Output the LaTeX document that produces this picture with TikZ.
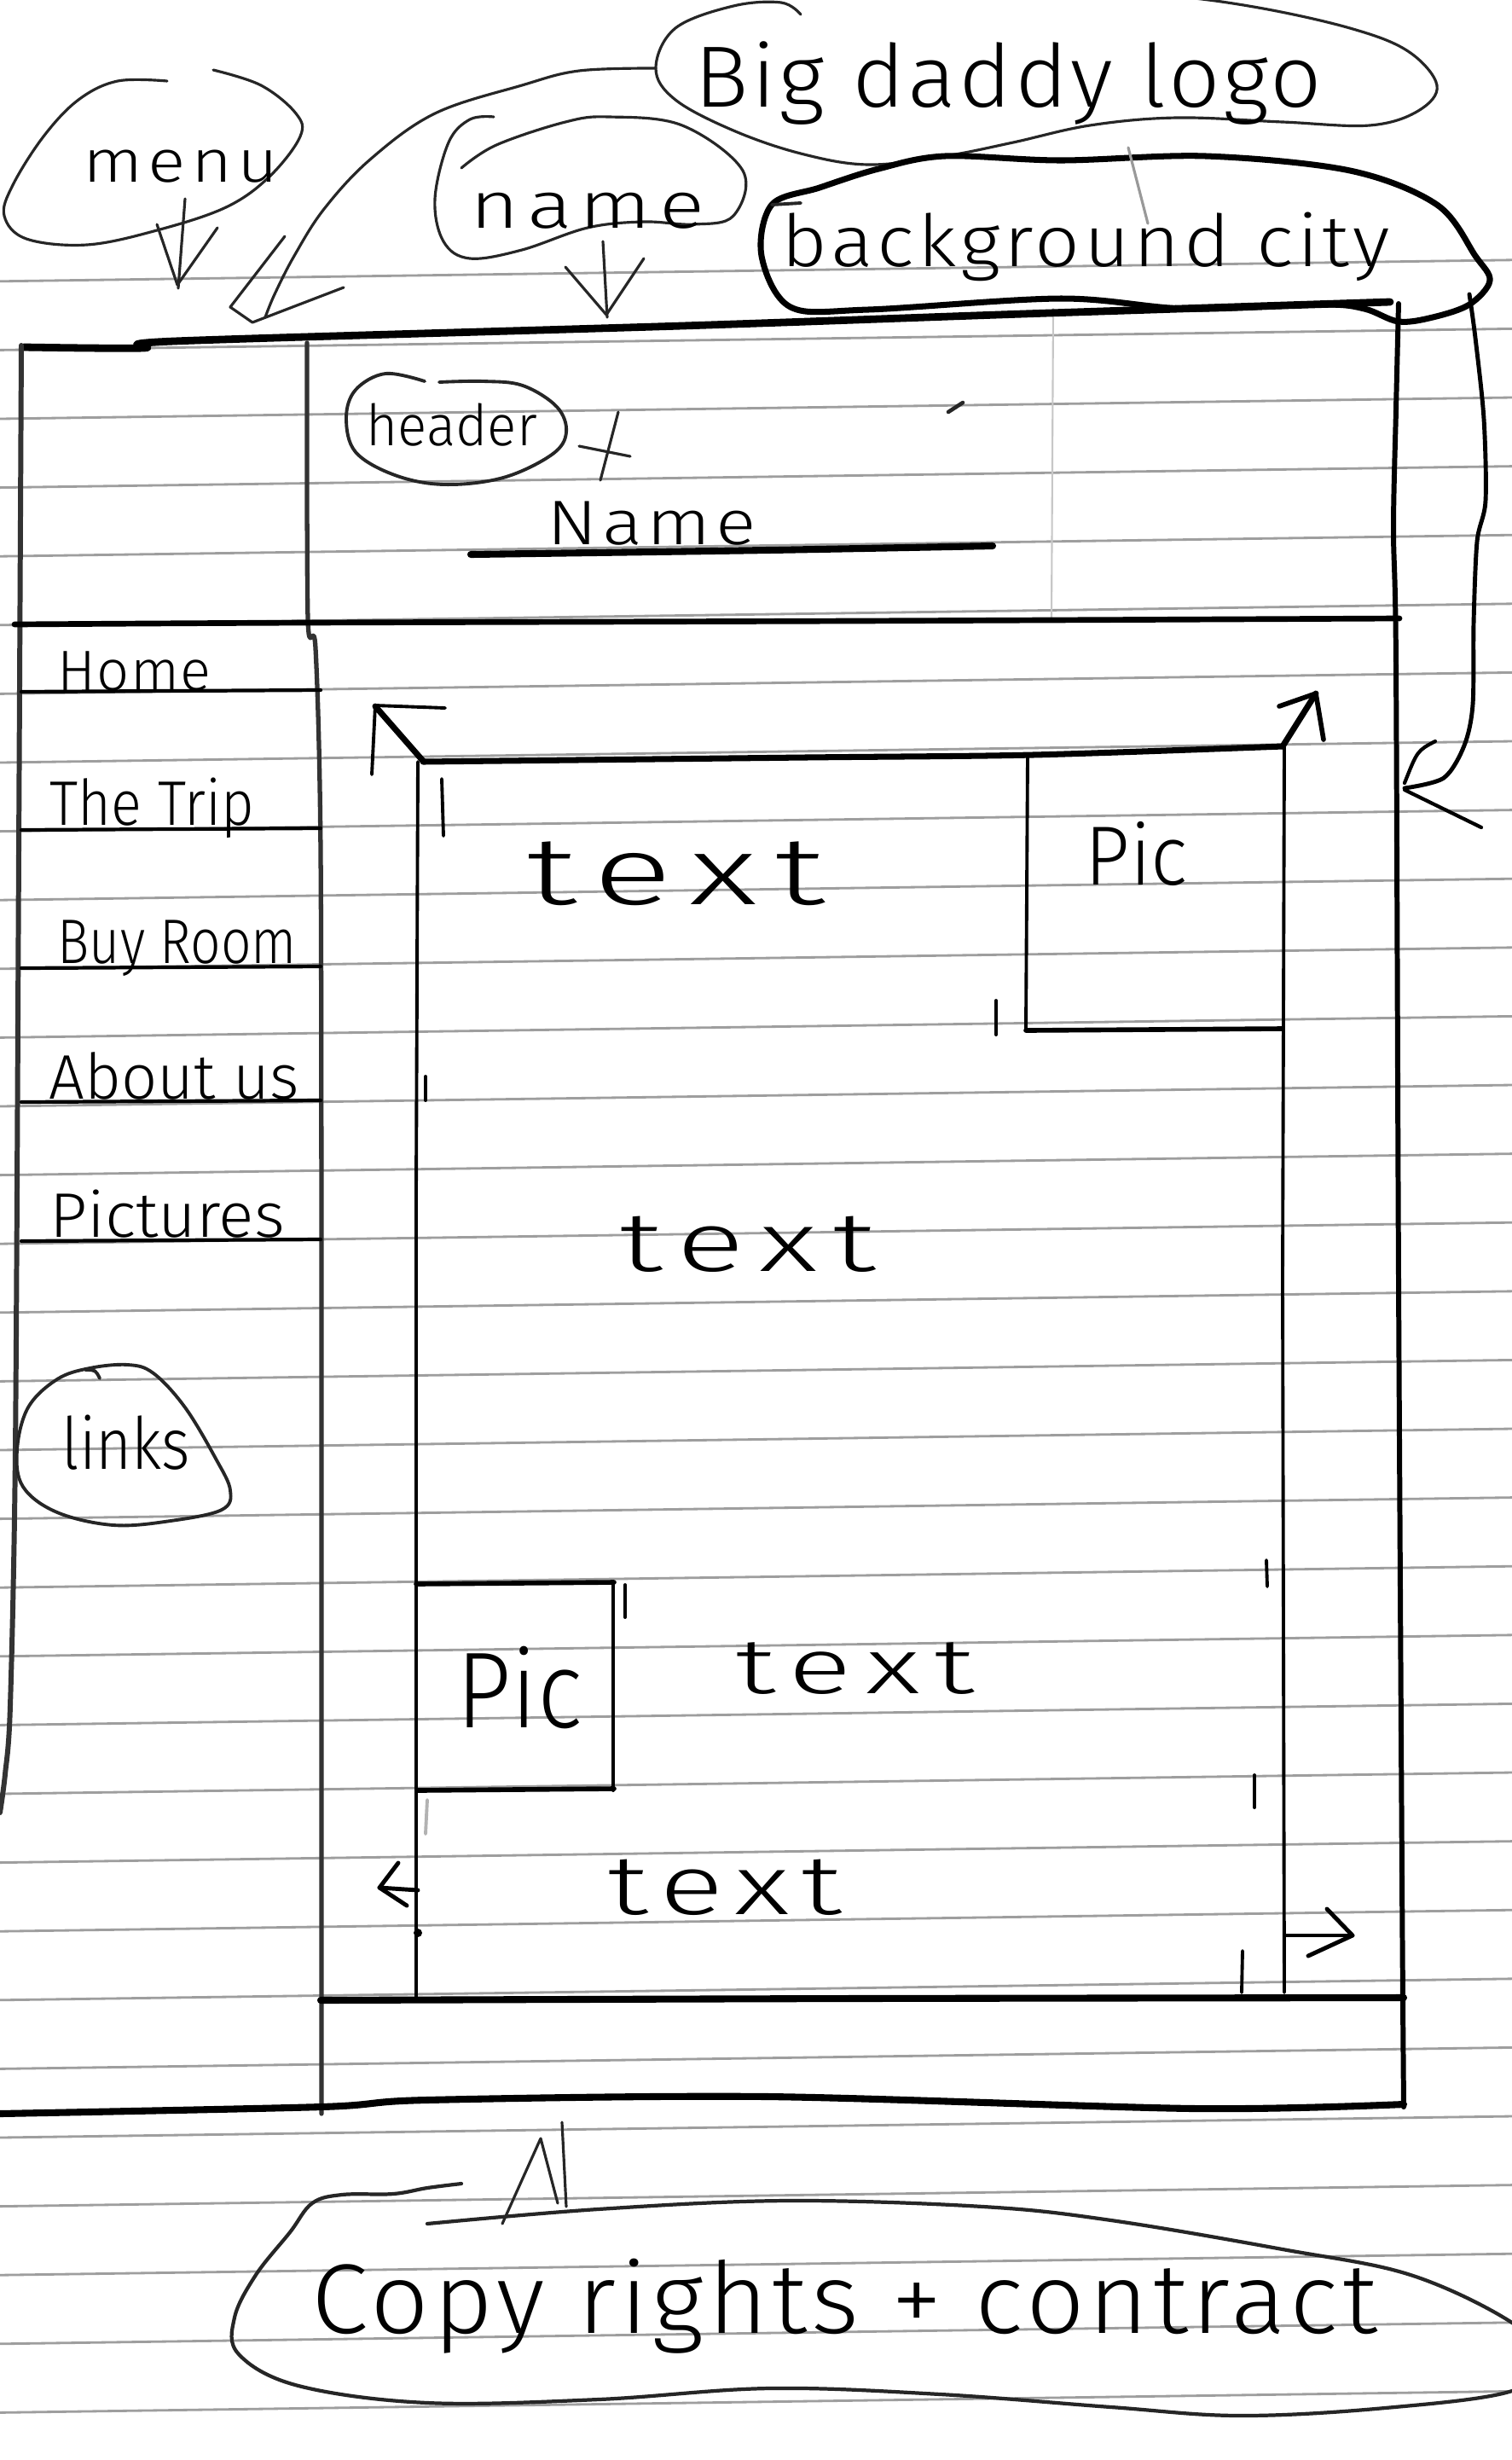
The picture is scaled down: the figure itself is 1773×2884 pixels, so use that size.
\documentclass[tikz,border=0pt]{standalone}
\usepackage{fontspec}
\IfFontExistsTF{Fira Sans Light}{\setmainfont{Fira Sans Light}}{\setmainfont{Fira Sans}}
% hand-lettered label: [letter spacing] font size, target width, text
\newcommand\hand[4][0]{{\fontsize{#2}{#2}\selectfont\addfontfeature{LetterSpace=#1}\resizebox{#3}{\height}{#4}}}
\begin{document}
\begin{tikzpicture}[x=0.01cm, y=-0.01cm, line cap=round, line join=round,
  rule/.style={draw=black!38, line width=0.8pt},
  bord/.style={draw=black, line width=1.7pt},
  heavy/.style={draw=black, line width=2.5pt},
  innerln/.style={draw=black, line width=1.1pt},
  menuln/.style={draw=black, line width=1.2pt},
  ink/.style={draw=black!85, line width=0.9pt},
  tickln/.style={draw=black, line width=1.1pt},
  lbl/.style={inner sep=0pt, anchor=base west},
]
\useasboundingbox (0,0) rectangle (1773,2884);
\clip (0,0) rectangle (1773,2884);
\fill[white] (0,0) rectangle (1773,2884);

% ruled paper
\foreach \k in {-2,...,29}
  \draw[rule] (0,{491+80.6*\k}) -- (1773,{466+80.6*\k});

% faint crease in the header band
\draw[black!22, line width=0.6pt] (1235,362) -- (1233,727);

% ---------------- page frame ----------------
\draw[heavy] plot[smooth, tension=0.5] coordinates {(28,407) (168,408) (204,400) (800,382) (1200,368) (1630,354)};
\draw[bord] plot[smooth, tension=0.5] coordinates {(1640,356) (1637,480) (1634,620) (1637,780) (1640,1500) (1644,2200) (1646,2470)};
\draw[bord, draw=black!80] plot[smooth, tension=0.5] coordinates {(25,405) (22,1000) (18,1700) (12,2000) (6,2080) (0,2125)};
\draw[bord, draw=black!80, line width=1.5pt] plot[smooth, tension=0.5] coordinates {(360,402) (361,725) (370,760) (376,1000) (377,1600) (377,2478)};
\draw[heavy, line width=1.9pt] plot[smooth, tension=0.5] coordinates {(17,732) (360,730) (1000,728) (1641,725)};

% menu rows
\foreach \y in {811,973,1135,1292,1455}
  \draw[menuln] (25,\y) -- (376,{\y-2});

\node[lbl] (home)  at (67,809)  {\hand[2]{19pt}{1.8cm}{Home}};
\node[lbl] (trip)  at (58,967)  {\hand{21pt}{2.39cm}{The Trip}};
\node[lbl] (buy)   at (67,1129) {\hand{21pt}{2.8cm}{Buy Room}};
\node[lbl] (about) at (57,1288) {\hand{21pt}{2.93cm}{About us}};
\node[lbl] (pics)  at (58,1450) {\hand{21pt}{2.75cm}{Pictures}};

% links bubble
\draw[ink, line width=1.1pt] plot[smooth cycle, tension=0.6] coordinates {(150,1600) (180,1610) (217,1650) (253,1710) (270,1747) (260,1770) (200,1783) (133,1788) (67,1773) (27,1743) (20,1700) (33,1650) (67,1617) (105,1604)};
\draw[ink, line width=1.1pt] (100,1606) .. controls (112,1606) .. (117,1616);
\node[lbl] (links) at (72,1722) {\hand{24pt}{1.5cm}{links}};

% ---------------- header ----------------
\draw[ink, line width=1.1pt] plot[smooth, tension=0.6] coordinates {(498,447) (452,438) (417,457) (406,490) (417,530) (463,557) (521,568) (590,560) (647,533) (664,507) (653,477) (613,452) (567,447) (515,448)};
\node[lbl] (header) at (429,522) {\hand{19pt}{2.0cm}{header}};
\draw[ink] (725,483) -- (704,563);
\draw[ink] (679,523) -- (739,535);
\draw[ink, line width=1.3pt] (1112,483) -- (1129,472);
\node[lbl] (name) at (641,638) {\hand[6]{21pt}{2.45cm}{Name}};
\draw[heavy, line width=2.3pt] plot[smooth, tension=0.5] coordinates {(552,650) (900,645) (1164,640)};

% ---------------- content area ----------------
\draw[heavy, line width=2pt] plot[smooth, tension=0.5] coordinates {(496,893) (944,888) (1211,885) (1504,875)};
\draw[innerln] (490,893) -- (488,1400) -- (488,2345);
\draw[innerln] (1506,876) -- (1504,1500) -- (1506,2336);
\draw[heavy, line width=2.3pt] plot[smooth, tension=0.5] coordinates {(376,2345) (1000,2343) (1646,2342)};
\draw[heavy, line width=2.3pt] plot[smooth, tension=0.5] coordinates {(0,2478) (377,2470) (500,2462) (900,2458) (1400,2472) (1646,2467)};

% picture boxes
\draw[innerln] (1205,887) -- (1203,1208);
\draw[innerln, line width=1.6pt] (1203,1208) -- (1504,1206);
\draw[innerln, line width=1.6pt] (488,1857) -- (720,1855);
\draw[innerln] (719,1856) -- (719,2099);
\draw[innerln, line width=1.6pt] (490,2099) -- (720,2097);

% small ticks
\draw[tickln] (518,913) -- (520,980);
\draw[tickln] (1168,1173) -- (1168,1213);
\draw[tickln] (499,1262) -- (499,1290);
\draw[tickln] (733,1858) -- (733,1896);
\draw[tickln] (1485,1829) -- (1486,1860);
\draw[tickln] (1471,2081) -- (1471,2119);
\draw[tickln] (1457,2287) -- (1456,2336);
\draw[tickln, draw=black!30] (501,2110) -- (499,2150);
\fill (490,2266) circle (5);

% corner arrows
\draw[heavy, line width=2pt] (496,892) -- (440,828);
\draw[innerln] (522,830) -- (440,827) -- (436,908);
\draw[heavy, line width=2pt] (1504,875) -- (1543,813);
\draw[innerln, line width=1.6pt] (1500,828) -- (1543,813) -- (1552,867);
\draw[innerln, line width=1.4pt] (490,2216) -- (445,2213);
\draw[innerln, line width=1.4pt] (467,2184) -- (445,2213) -- (477,2234);
\draw[innerln, line width=1.4pt] (1508,2269) -- (1586,2269);
\draw[innerln, line width=1.4pt] (1556,2238) -- (1586,2269) -- (1534,2293);

\node[lbl] (t1) at (617,1060) {\hand[12]{32pt}{3.5cm}{text}};
\node[lbl] (p1) at (1272,1037) {\hand{28pt}{1.2cm}{Pic}};
\node[lbl] (t2) at (726,1490) {\hand[12]{28pt}{3.0cm}{text}};
\node[lbl] (p2) at (535,2025) {\hand{36pt}{1.47cm}{Pic}};
\node[lbl] (t3) at (862,1985) {\hand[12]{26pt}{2.8cm}{text}};
\node[lbl] (t4) at (712,2244) {\hand[10]{28pt}{2.75cm}{text}};

% ---------------- notes above the page ----------------
% menu
\draw[ink] plot[smooth, tension=0.6] coordinates {(196,95) (138,95) (92,117) (51,160) (15,217) (5,253) (31,280) (102,287) (184,270) (265,243) (316,207) (352,160) (347,133) (306,100) (250,82)};
\node[lbl] (menu) at (97,213) {\hand[7]{20pt}{2.28cm}{menu}};
\draw[ink] (217,233) -- (209,338);
\draw[ink] (184,263) -- (208,334) -- (255,267);

% name
\draw[ink] plot[smooth, tension=0.6] coordinates {(541,197) (582,170) (663,143) (714,137) (800,147) (871,200) (860,253) (814,263) (755,260) (689,267) (612,293) (551,303) (520,283) (510,233) (526,167) (551,140) (579,137)};
\node[lbl] (nametag) at (551,267) {\hand[9]{22pt}{2.74cm}{name}};
\draw[ink] (707,283) -- (712,372);
\draw[ink] (663,313) -- (711,369) -- (755,303);

% logo
\draw[ink] plot[smooth, tension=0.6] coordinates {(939,17) (916,3) (860,7) (792,33) (769,80) (792,117) (860,153) (939,180) (1018,193) (1108,183) (1188,167) (1278,147) (1380,138) (1504,143) (1606,147) (1663,130) (1685,100) (1651,60) (1583,33) (1470,8) (1357,-6) (1200,-12)};
\node[lbl] (logo) at (814,125) {\hand[3]{29pt}{7.35cm}{Big daddy logo}};
\draw[ink] plot[smooth, tension=0.6] coordinates {(769,80) (679,83) (612,100) (510,133) (434,187) (380,245) (345,300) (322,345) (311,372)};
\draw[ink] (334,277) -- (270,360) -- (296,378) -- (403,337);

% background
\draw[ink, draw=black, line width=2pt] plot[smooth cycle, tension=0.55] coordinates {(1108,183) (1244,188) (1414,183) (1583,200) (1685,240) (1730,300) (1747,329) (1723,357) (1680,372) (1640,377) (1600,362) (1550,357) (1391,362) (1244,350) (1018,363) (927,360) (893,300) (905,240) (961,220) (1030,198)};
\draw[ink, line width=1.1pt] (905,240) -- (939,238);
\draw[ink, draw=black!40] (1323,173) -- (1346,262);
\node[lbl] (bg) at (916,312) {\hand[5]{24pt}{7.13cm}{background city}};
\draw[ink, draw=black, line width=1.4pt] plot[smooth, tension=0.5] coordinates {(1723,345) (1730,396) (1740,491) (1742,587) (1732,635) (1728,731) (1727,826) (1717,874) (1693,912) (1647,924)};
\draw[ink, draw=black, line width=1.2pt] (1683,869) .. controls (1662,880) .. (1647,918);
\draw[ink, draw=black, line width=1.2pt] (1647,926) -- (1737,970);

% ---------------- note below the page ----------------
\draw[ink, line width=1.2pt] plot[smooth, tension=0.6] coordinates {(541,2560) (501,2565) (461,2572) (401,2573) (366,2583) (340,2617) (300,2667) (275,2717) (280,2760) (350,2797) (501,2817) (702,2813) (902,2800) (1103,2807) (1303,2822) (1454,2832) (1624,2823) (1773,2803) (1805,2765) (1773,2723) (1654,2667) (1504,2637) (1303,2603) (1153,2587) (922,2580) (701,2590) (501,2607)};
\node[lbl] (foot) at (365,2735) {\hand[4]{33pt}{12.49cm}{Copy rights + contract}};
\draw[ink] (589,2607) -- (634,2507) -- (654,2583);
\draw[ink] (659,2488) -- (664,2587);
\end{tikzpicture}
\end{document}
